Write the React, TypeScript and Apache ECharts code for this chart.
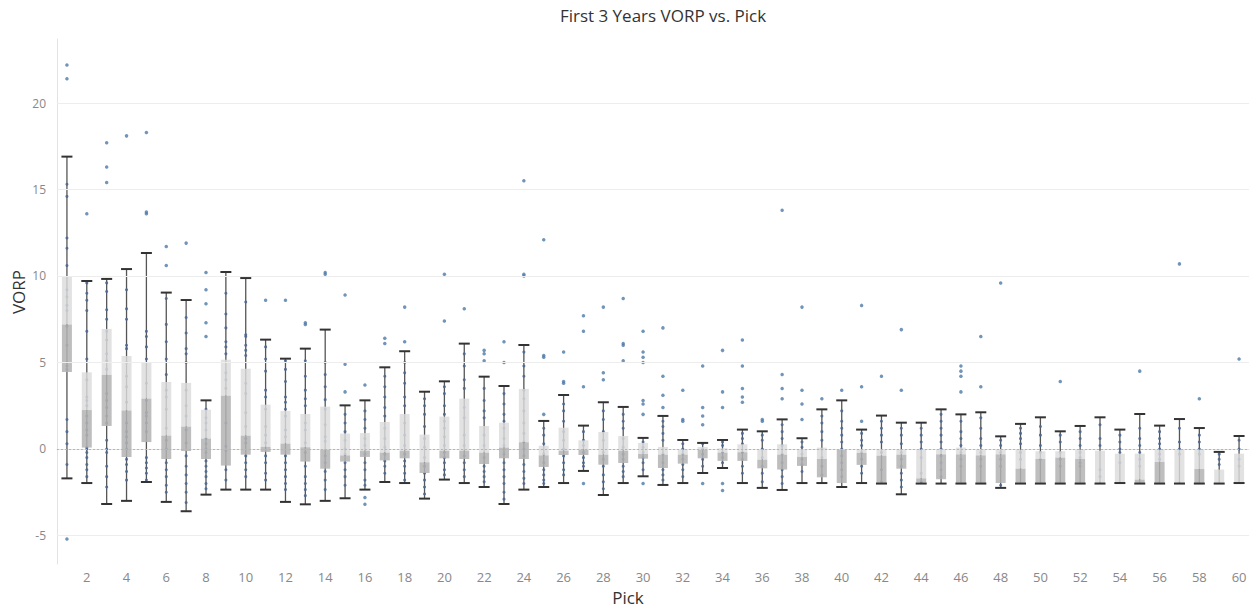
import React, { useEffect, useRef } from "react";
import * as echarts from "echarts";

const picks = [
  1, 2, 3, 4, 5, 6, 7, 8, 9, 10, 11, 12, 13, 14, 15, 16, 17, 18, 19, 20,
  21, 22, 23, 24, 25, 26, 27, 28, 29, 30, 31, 32, 33, 34, 35, 36, 37, 38, 39, 40,
  41, 42, 43, 44, 45, 46, 47, 48, 49, 50, 51, 52, 53, 54, 55, 56, 57, 58, 59, 60,
];

const whiskerLow = [
  -1.7, -1.97, -3.18, -3.0, -1.91, -3.06, -3.6, -2.64, -2.35, -2.35,
  -2.35, -3.06, -3.2, -3.0, -2.85, -2.35, -1.91, -1.97, -2.87, -1.77,
  -1.97, -2.2, -3.18, -2.35, -2.2, -1.97, -1.27, -2.66, -1.97, -1.58,
  -2.08, -1.97, -1.39, -1.1, -1.97, -2.25, -2.37, -1.97, -1.97, -2.2,
  -1.97, -2.0, -2.62, -2.0, -2.0, -2.0, -2.0, -2.25, -2.0, -2.0,
  -2.0, -2.0, -2.0, -1.97, -2.0, -2.0, -2.0, -2.0, -2.0, -1.97,
];

const q1 = [
  4.45, 0.08, 1.33, -0.46, 0.4, -0.58, -0.12, -0.58, -0.96, -0.33,
  -0.17, -0.33, -0.73, -1.14, -0.73, -0.46, -0.66, -0.54, -1.39, -0.54,
  -0.58, -0.87, -0.54, -0.58, -1.04, -0.35, -0.35, -0.91, -0.81, -0.56,
  -1.1, -0.85, -0.54, -0.69, -0.69, -1.12, -1.19, -0.98, -1.64, -1.97,
  -0.92, -1.97, -1.14, -1.95, -1.75, -1.97, -1.97, -1.97, -1.97, -1.97,
  -1.97, -1.97, -1.97, -1.97, -1.97, -1.97, -1.97, -1.97, -1.97, -1.97,
];

const median = [
  7.2, 2.25, 4.28, 2.22, 2.91, 0.77, 1.29, 0.6, 3.08, 0.77,
  0.12, 0.31, 0.1, -0.04, -0.37, -0.1, -0.21, -0.1, -0.77, -0.1,
  -0.1, -0.21, 0.08, 0.39, -0.37, -0.1, -0.04, -0.33, -0.1, -0.29,
  -0.33, -0.33, -0.04, -0.21, -0.19, -0.62, -0.33, -0.46, -0.58, -0.05,
  -0.23, -0.39, -0.33, -1.7, -0.31, -0.31, -0.37, -0.31, -1.14, -0.58,
  -0.5, -0.58, -1.95, -1.95, -1.77, -0.75, -1.95, -1.16, -1.97, -1.95,
];

const q3 = [
  9.95, 4.43, 6.94, 5.38, 5.03, 3.87, 3.82, 2.27, 5.16, 4.64,
  2.56, 2.2, 2.02, 2.45, 0.89, 0.92, 1.56, 2.02, 0.83, 1.87,
  2.91, 1.33, 1.52, 3.47, 0.19, 1.23, 0.5, 0.98, 0.75, 0.35,
  0.12, -0.04, 0.12, 0.04, 0.27, -0.06, 0.27, 0.0, 0.08, 0.0,
  0.0, 0.0, -0.04, -0.04, 0.0, 0.08, 0.0, 0.0, -0.04, -0.13,
  -0.13, -0.04, -0.1, -0.27, -0.27, -0.04, -0.04, -0.04, -1.19, -0.27,
];

const whiskerHigh = [
  16.9, 9.71, 9.83, 10.4, 11.33, 9.04, 8.61, 2.81, 10.23, 9.88,
  6.32, 5.22, 5.8, 6.9, 2.52, 2.81, 4.72, 5.65, 3.31, 3.91,
  6.09, 4.18, 3.64, 6.01, 1.62, 3.12, 1.35, 2.7, 2.43, 0.64,
  1.91, 0.52, 0.35, 0.52, 1.12, 1.02, 1.71, 0.62, 2.29, 2.81,
  1.12, 1.93, 1.52, 1.52, 2.29, 2.0, 2.12, 0.73, 1.45, 1.83,
  1.02, 1.33, 1.83, 1.12, 2.02, 1.35, 1.73, 1.21, -0.17, 0.75,
];

// [pick, VORP] for points outside the whiskers
const outliers: [number, number][] = [
  [1, 22.2], [1, 21.4], [1, -5.2], [2, 13.6], [3, 17.7], [3, 16.3], [3, 15.4],
  [4, 18.1], [5, 18.3], [5, 13.7], [5, 13.6], [6, 11.7], [6, 10.6], [7, 11.9],
  [8, 10.2], [8, 9.2], [8, 8.4], [8, 7.3], [8, 6.5], [11, 8.6], [12, 8.6],
  [13, 7.3], [13, 7.2], [14, 10.2], [14, 10.1], [15, 8.9], [15, 4.9], [15, 3.3],
  [16, 3.7], [16, -2.8], [16, -3.2], [17, 6.4], [17, 6.1], [18, 8.2], [18, 6.2],
  [20, 10.1], [20, 7.4], [21, 8.1], [22, 5.7], [22, 5.5], [22, 5.1], [23, 6.2],
  [23, 5.0], [24, 15.5], [24, 10.1], [24, 10.0], [25, 12.1], [25, 5.4], [25, 5.3],
  [25, 2.0], [26, 5.6], [26, 3.9], [26, 3.8], [27, 7.7], [27, 6.8], [27, 3.6],
  [27, -2.0], [28, 8.2], [28, 4.4], [28, 4.0], [29, 8.7], [29, 6.1], [29, 6.0],
  [29, 5.1], [30, 6.8], [30, 5.6], [30, 5.3], [30, 5.0], [30, 2.8], [30, 2.6],
  [30, 2.0], [30, -2.0], [31, 7.0], [31, 4.2], [31, 3.1], [31, 2.4], [32, 3.4],
  [32, 1.7], [32, 1.6], [33, 4.8], [33, 2.4], [33, 1.9], [33, 1.4], [33, -2.0],
  [34, 5.7], [34, 3.3], [34, 2.4], [34, -2.0], [34, -2.4], [35, 6.3], [35, 4.8],
  [35, 3.5], [35, 3.0], [35, 2.7], [36, 1.7], [36, 1.6], [37, 13.8], [37, 4.3],
  [37, 3.5], [37, 2.9], [38, 8.2], [38, 3.4], [38, 2.6], [38, 1.7], [39, 2.9],
  [40, 3.4], [41, 8.3], [41, 3.6], [41, 1.6], [42, 4.2], [43, 6.9], [43, 3.4],
  [46, 4.8], [46, 4.5], [46, 4.2], [46, 3.3], [47, 6.5], [47, 3.6], [48, 9.6],
  [51, 3.9], [55, 4.5], [57, 10.7], [58, 2.9], [60, 5.2],
];

// points inside the whiskers, one list per pick
const innerPoints: number[][] = [
  [15.3, 14.6, 12.2, 11.6, 10.6, 9.2, 8.8, 8.3, 8.0, 7.1, 6.0, 5.0, 4.8, 4.6, 1.7, 1.0, 0.3, -0.9],
  [9.6, 9.0, 8.6, 8.0, 6.8, 5.2, 4.0, 3.0, 2.8, 2.5, 1.9, 1.5, 1.1, 0.8, 0.1, 0.0, -0.2, -0.5, -0.9, -1.2, -1.6],
  [9.6, 9.1, 8.05, 7.5, 6.8, 6.3, 5.5, 5.1, 4.6, 3.2, 2.8, 2.4, 1.9, 1.5, 0.5, 0.0, -0.2, -1.0, -1.6, -2.2],
  [9.2, 8.1, 7.5, 6.0, 5.8, 5.0, 4.2, 3.6, 2.7, 1.5, 1.0, 0.7, 0.35, 0.0, -0.6, -0.9, -1.3, -1.8],
  [6.8, 6.5, 5.9, 5.2, 3.8, 2.8, 2.1, 1.9, 1.5, 1.0, -0.5, -0.8, -1.1, -1.4, -1.8],
  [8.7, 7.2, 6.2, 5.2, 4.3, 3.4, 3.0, 2.3, 1.2, 0.5, 0.0, -0.8, -1.2, -1.6, -2.1, -2.5],
  [7.6, 6.7, 5.8, 5.5, 5.0, 3.4, 2.5, 1.9, 1.1, 0.35, -0.4, -1.0, -1.5, -2.0, -2.5, -3.1],
  [2.3, 1.8, 1.5, 1.1, 0.6, 0.3, 0.0, -0.2, -0.7, -1.0, -1.3, -1.6, -2.0, -2.3],
  [9.0, 7.8, 7.0, 6.2, 5.9, 5.5, 4.4, 4.0, 3.5, 1.5, 0.15, -0.1, -1.2, -1.8],
  [8.5, 6.6, 6.5, 6.0, 5.7, 5.4, 3.8, 3.2, 2.1, 1.3, 0.6, 0.35, -0.4, -0.8, -1.2, -1.6],
  [5.9, 5.2, 4.5, 3.4, 3.0, 2.3, 1.3, 0.8, 0.35, -0.4, -0.8, -1.4, -1.8],
  [5.1, 4.6, 3.9, 3.0, 2.7, 2.3, 1.9, 1.1, 0.7, -0.4, -0.8, -1.2, -1.6, -2.0, -2.35],
  [5.1, 4.2, 3.4, 2.9, 2.5, 1.5, 1.1, 0.35, -0.2, -1.0, -1.6, -2.0, -2.35, -2.7],
  [5.0, 4.3, 3.6, 2.85, 2.3, 1.4, 0.7, 0.45, -0.4, -0.8, -1.3, -1.8, -2.35],
  [2.0, 1.5, 1.0, 0.5, 0.0, -0.3, -0.8, -1.2, -1.6, -2.1],
  [2.2, 1.7, 1.2, 0.6, 0.2, -0.3, -0.8, -1.2, -1.8, -2.1],
  [4.2, 3.6, 3.0, 2.4, 1.9, 1.2, 0.6, 0.1, -0.3, -0.7, -1.0, -1.4],
  [5.0, 4.4, 3.8, 3.0, 2.5, 1.5, 0.8, 0.2, -0.3, -0.7, -1.0, -1.4, -1.8],
  [2.9, 2.5, 2.0, 1.3, 0.6, 0.1, -0.5, -1.0, -1.4, -1.8, -2.2, -2.6],
  [3.6, 3.2, 2.5, 2.0, 1.6, 1.2, 0.7, 0.2, -0.2, -0.5, -0.8, -1.2, -1.5],
  [5.5, 4.8, 4.0, 3.5, 2.4, 1.8, 0.8, 0.2, -0.4, -0.8, -1.2, -1.6],
  [3.5, 2.8, 2.2, 1.8, 0.8, 0.2, -0.5, -1.0, -1.3, -1.6, -1.9],
  [3.2, 2.6, 2.0, 1.6, 1.2, 0.6, 0.2, -0.3, -0.8, -1.2, -1.6, -2.0, -2.5, -2.9],
  [5.6, 4.8, 4.2, 3.4, 2.9, 2.2, 1.5, 0.9, 0.4, 0.0, -0.4, -0.9, -1.3, -1.7, -2.0],
  [1.2, 0.8, 0.3, -0.3, -0.8, -1.2, -1.5, -1.8, -2.0],
  [2.6, 2.2, 1.6, 1.0, 0.5, 0.0, -0.4, -0.8, -1.2, -1.5],
  [1.0, 0.5, 0.2, -0.2, -0.5, -0.8, -1.0],
  [2.2, 1.7, 1.0, 0.5, -0.2, -0.6, -1.0, -1.5, -1.9, -2.3],
  [2.0, 1.6, 1.2, 0.6, 0.1, -0.3, -0.6, -1.0, -1.3, -1.6],
  [0.4, 0.1, -0.2, -0.5, -0.8, -1.2],
  [1.6, 1.3, 0.9, 0.5, -0.3, -0.8, -1.2, -1.5, -1.8],
  [0.3, 0.0, -0.3, -0.6, -0.9, -1.2, -1.6],
  [0.3, 0.0, -0.3, -0.6, -1.0],
  [0.4, 0.2, -0.2, -0.5, -0.8],
  [0.9, 0.6, 0.3, -0.2, -0.6, -1.0, -1.4],
  [0.8, 0.5, 0.0, -0.5, -1.0, -1.4, -1.9],
  [1.4, 1.0, 0.6, 0.2, -0.3, -0.8, -1.2, -1.6, -2.0],
  [0.4, 0.1, -0.3, -0.6, -0.9, -1.3],
  [1.9, 1.5, 1.0, 0.5, 0.0, -0.5, -1.0, -1.5],
  [2.2, 1.6, 1.2, 0.8, 0.4, 0.0, -0.4, -0.8, -1.2, -1.6],
  [0.9, 0.5, 0.2, -0.2, -0.6, -1.0, -1.4],
  [1.6, 1.2, 0.8, 0.4, -0.2, -1.2, -1.9],
  [1.2, 0.8, 0.3, -0.2, -0.6, -1.0, -1.4, -1.8, -2.2],
  [1.2, 0.8, 0.4, 0.0, -0.5, -1.4, -1.9],
  [2.0, 1.6, 1.2, 0.8, 0.4, 0.0, -0.4, -0.8, -1.2, -1.6],
  [1.6, 1.0, 0.6, 0.2, -0.2, -0.6, -1.0],
  [1.8, 1.2, 0.6, 0.2, -0.2, -0.6, -1.0],
  [0.5, 0.2, -0.2, -0.6, -1.0, -2.1],
  [1.2, 0.9, 0.6, 0.3, -0.2, -0.6],
  [1.3, 0.8, 0.2, -0.2, -0.6],
  [0.8, 0.4, -0.2, -0.6, -1.0],
  [1.0, 0.6, 0.2, -0.2, -0.5, -0.8, -1.0],
  [1.4, 0.6, 0.2, -1.2, -1.6],
  [0.8, 0.4, 0.0, -0.2, -0.8],
  [1.2, 0.6, 0.2, -0.2, -0.6, -1.0],
  [1.0, 0.6, 0.3, 0.0, -0.3, -0.6],
  [1.2, 0.4, 0.0, -0.3],
  [0.8, 0.4, 0.0, -0.3],
  [-0.3, -0.6, -0.9],
  [0.5, 0.0, -0.6, -1.0],
];

const yTicks = [-5, 0, 5, 10, 15, 20];
const gridValues = [-5, 5, 10, 15, 20];

const FONT = "'Open Sans', 'Noto Sans', sans-serif";

export default function App() {
  const ref = useRef<HTMLDivElement>(null);

  useEffect(() => {
    if (!ref.current) return;
    const chart = echarts.init(ref.current, undefined, { renderer: "svg" });

    const whiskerData = picks.map((_, i) => [i, whiskerLow[i], whiskerHigh[i]]);
    const boxData = picks.map((_, i) => [i, q1[i], median[i], q3[i], whiskerLow[i], whiskerHigh[i]]);
    const innerData = innerPoints.flatMap((vals, i) => vals.map((v) => [i, v]));
    const outlierData = outliers.map(([p, v]) => [picks.indexOf(p), v]);

    const option: any = {
      animation: false,
      textStyle: { fontFamily: FONT },
      title: {
        text: "First 3 Years VORP vs. Pick",
        left: 658,
        textAlign: "center",
        top: 2,
        textStyle: { fontSize: 17, fontWeight: "normal", color: "#333", fontFamily: FONT },
      },
      graphic: [
        {
          type: "text",
          x: 18,
          y: 292,
          rotation: Math.PI / 2,
          style: {
            text: "VORP",
            fontSize: 17,
            fill: "#333",
            fontFamily: FONT,
            textAlign: "center",
            textVerticalAlign: "middle",
          },
        },
        {
          type: "text",
          x: 628,
          y: 597,
          style: {
            text: "Pick",
            fontSize: 17,
            fill: "#333",
            fontFamily: FONT,
            textAlign: "center",
            textVerticalAlign: "middle",
          },
        },
      ],
      grid: { left: 57, right: 8, top: 39, bottom: 47 },
      xAxis: {
        type: "category",
        data: picks.map(String),
        boundaryGap: true,
        axisLine: { show: true, lineStyle: { color: "#e3e3e3" } },
        axisTick: { show: false },
        splitLine: { show: false },
        axisLabel: {
          interval: (index: number) => index % 2 === 1,
          color: "#888",
          fontSize: 13,
          margin: 6,
          fontFamily: FONT,
        },
      },
      yAxis: {
        type: "value",
        min: -6.65,
        max: 23.7,
        axisLine: { show: true, lineStyle: { color: "#e3e3e3" } },
        axisTick: { show: false },
        splitLine: { show: false },
        axisLabel: {
          customValues: yTicks,
          color: "#888",
          fontSize: 12,
          margin: 11,
          fontFamily: FONT,
        },
      },
      series: [
        {
          type: "custom",
          name: "whiskers",
          z: 1,
          data: whiskerData,
          encode: { x: 0, y: [1, 2] },
          renderItem: (params: any, api: any) => {
            const idx = api.value(0);
            const lo = api.coord([idx, api.value(1)]);
            const hi = api.coord([idx, api.value(2)]);
            return {
              type: "line",
              shape: { x1: lo[0], y1: hi[1], x2: lo[0], y2: lo[1] },
              style: { stroke: "#555", lineWidth: 1.3 },
            };
          },
          markLine: {
            silent: true,
            symbol: "none",
            label: { show: false },
            lineStyle: { color: "#ededed", type: "solid", width: 1 },
            data: gridValues.map((v) => ({ yAxis: v })),
          },
        },
        {
          type: "scatter",
          name: "points",
          z: 2,
          data: innerData,
          symbolSize: 3,
          itemStyle: { color: "#4b6790", opacity: 0.9 },
          markLine: {
            silent: true,
            symbol: "none",
            label: { show: false },
            lineStyle: { color: "#b5b5b5", type: [2, 2], width: 1 },
            data: [{ yAxis: 0 }],
          },
        },
        {
          type: "custom",
          name: "boxes",
          z: 3,
          data: boxData,
          encode: { x: 0, y: [1, 2, 3, 4, 5] },
          renderItem: (params: any, api: any) => {
            const idx = api.value(0);
            const pQ1 = api.coord([idx, api.value(1)]);
            const pMed = api.coord([idx, api.value(2)]);
            const pQ3 = api.coord([idx, api.value(3)]);
            const pLo = api.coord([idx, api.value(4)]);
            const pHi = api.coord([idx, api.value(5)]);
            const cx = pQ1[0];
            const bw = 10;
            const cw = 11;
            return {
              type: "group",
              children: [
                {
                  type: "rect",
                  shape: { x: cx - bw / 2, y: pQ3[1], width: bw, height: Math.max(0, pMed[1] - pQ3[1]) },
                  style: { fill: "#dcdcdc", opacity: 0.82 },
                },
                {
                  type: "rect",
                  shape: { x: cx - bw / 2, y: pMed[1], width: bw, height: Math.max(0, pQ1[1] - pMed[1]) },
                  style: { fill: "#b3b3b3", opacity: 0.85 },
                },
                {
                  type: "line",
                  shape: { x1: cx - cw / 2, y1: pHi[1], x2: cx + cw / 2, y2: pHi[1] },
                  style: { stroke: "#333", lineWidth: 2 },
                },
                {
                  type: "line",
                  shape: { x1: cx - cw / 2, y1: pLo[1], x2: cx + cw / 2, y2: pLo[1] },
                  style: { stroke: "#333", lineWidth: 2 },
                },
              ],
            };
          },
        },
        {
          type: "scatter",
          name: "outliers",
          z: 4,
          data: outlierData,
          symbolSize: 3.5,
          itemStyle: { color: "#4e79a7" },
        },
      ],
    };

    chart.setOption(option);
    return () => chart.dispose();
  }, []);

  return (
    <div
      ref={ref}
      style={{ position: "absolute", left: 0, top: 0, width: 1257, height: 611, background: "#fff" }}
    />
  );
}
